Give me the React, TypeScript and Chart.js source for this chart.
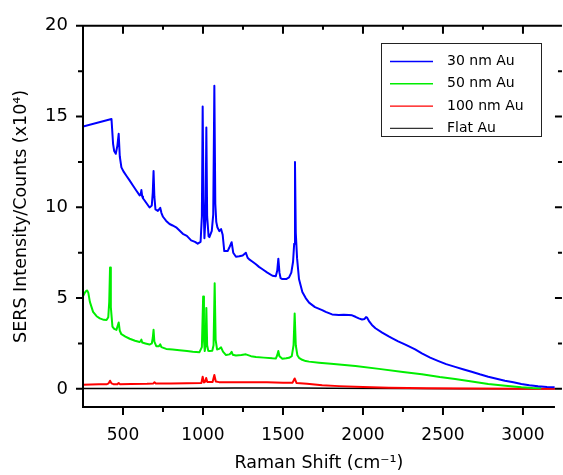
import React, { useEffect, useRef } from "react";
import { Chart, registerables } from "chart.js";
Chart.register(...registerables);

// ---- axis definitions ----
const X_MIN = 250;
const X_MAX = 3200;
const Y_MIN = -1;
const Y_MAX = 20;
const X_TICKS = [500, 1000, 1500, 2000, 2500, 3000];
const X_MINOR = [750, 1250, 1750, 2250, 2750];
const Y_TICKS = [0, 5, 10, 15, 20];
const Y_MINOR = [2.5, 7.5, 12.5, 17.5];

const SERIES_LABELS = ["30 nm Au", "50 nm Au", "100 nm Au", "Flat Au"];

// ---- data: [Raman shift (cm-1), intensity (x10^4)] ----
const AU30: [number, number][] = [
  [250, 14.45], [428, 14.87], [438, 13.5], [445, 13.1], [455, 12.95], [465, 13.4], [473, 14.05],
  [480, 12.8], [490, 12.2], [505, 11.95], [521, 11.74], [540, 11.5], [562, 11.2], [585, 10.9],
  [604, 10.66], [610, 10.7], [615, 10.95], [620, 10.6], [625, 10.5], [645, 10.25], [666, 9.99],
  [680, 10.1], [686, 10.8], [691, 12.0], [696, 10.6], [703, 9.88], [718, 9.8], [733, 9.97],
  [740, 9.7], [750, 9.48], [770, 9.25], [791, 9.08], [810, 9.0], [832, 8.9], [850, 8.75],
  [874, 8.54], [899, 8.43], [926, 8.18], [950, 8.1], [967, 8.0], [985, 8.1], [993, 9.5],
  [998, 15.55], [1003, 10.5], [1009, 8.3], [1016, 9.5], [1021, 14.4], [1026, 9.5], [1035, 8.4],
  [1040, 8.36], [1055, 8.7], [1064, 9.6], [1071, 16.7], [1077, 10.2], [1083, 9.2], [1090, 8.9],
  [1102, 8.69], [1113, 8.8], [1123, 8.49], [1133, 7.59], [1154, 7.59], [1164, 7.77], [1179, 8.08],
  [1189, 7.5], [1206, 7.28], [1227, 7.3], [1248, 7.35], [1268, 7.5], [1279, 7.22], [1289, 7.13],
  [1310, 7.0], [1331, 6.86], [1350, 6.72], [1372, 6.59], [1400, 6.42], [1434, 6.23], [1455, 6.2],
  [1464, 6.5], [1471, 7.17], [1478, 6.4], [1485, 6.1], [1496, 6.05], [1520, 6.05], [1538, 6.14],
  [1552, 6.4], [1563, 7.0], [1570, 8.0], [1575, 12.5], [1580, 8.6], [1588, 7.2], [1600, 6.05],
  [1621, 5.33], [1642, 5.0], [1663, 4.75], [1700, 4.5], [1745, 4.34], [1767, 4.24], [1807, 4.1],
  [1849, 4.07], [1880, 4.08], [1912, 4.07], [1932, 4.05], [1953, 3.97], [1974, 3.88], [1994, 3.82],
  [2010, 3.85], [2019, 3.95], [2026, 3.92], [2040, 3.7], [2056, 3.52], [2078, 3.34], [2120, 3.1],
  [2161, 2.89], [2181, 2.8], [2220, 2.62], [2265, 2.44], [2326, 2.17], [2368, 1.95], [2420, 1.72],
  [2472, 1.53], [2520, 1.36], [2576, 1.21], [2630, 1.07], [2679, 0.94], [2730, 0.8], [2783, 0.67],
  [2835, 0.56], [2887, 0.45], [2940, 0.36], [2990, 0.27], [3040, 0.2], [3094, 0.14], [3150, 0.1],
  [3198, 0.09],
];

const AU50: [number, number][] = [
  [250, 5.1], [262, 5.3], [270, 5.4], [276, 5.42], [283, 5.3], [293, 4.79], [313, 4.24], [335, 4.0],
  [355, 3.88], [380, 3.8], [397, 3.79], [408, 3.95], [414, 4.8], [419, 6.68], [424, 4.5], [434, 3.43],
  [445, 3.3], [459, 3.25], [466, 3.45], [473, 3.66], [480, 3.2], [490, 3.01], [515, 2.88], [542, 2.76],
  [575, 2.65], [604, 2.58], [610, 2.62], [615, 2.71], [620, 2.55], [640, 2.5], [666, 2.44], [680, 2.5],
  [686, 2.8], [691, 3.25], [696, 2.6], [708, 2.35], [725, 2.35], [733, 2.45], [740, 2.3], [770, 2.2],
  [810, 2.17], [853, 2.13], [900, 2.08], [936, 2.04], [978, 2.02], [993, 2.3], [1001, 5.09], [1006, 2.7],
  [1011, 2.08], [1016, 2.4], [1021, 4.46], [1026, 2.4], [1033, 2.1], [1040, 2.08], [1058, 2.1],
  [1066, 2.4], [1073, 5.82], [1079, 2.7], [1088, 2.17], [1100, 2.2], [1113, 2.29], [1125, 2.05],
  [1144, 1.86], [1165, 1.9], [1172, 1.95], [1179, 2.04], [1186, 1.88], [1206, 1.84], [1240, 1.86],
  [1268, 1.9], [1300, 1.8], [1331, 1.75], [1380, 1.72], [1434, 1.68], [1455, 1.67], [1464, 1.85],
  [1471, 2.08], [1478, 1.8], [1496, 1.66], [1520, 1.68], [1538, 1.71], [1555, 1.8], [1566, 2.4],
  [1573, 4.15], [1580, 2.4], [1590, 1.85], [1600, 1.71], [1620, 1.6], [1642, 1.53], [1663, 1.5],
  [1725, 1.44], [1800, 1.38], [1953, 1.26], [2100, 1.1], [2250, 0.93], [2368, 0.81], [2480, 0.65],
  [2576, 0.54], [2680, 0.41], [2783, 0.27], [2890, 0.17], [2990, 0.09], [3060, 0.05], [3114, 0.03],
];

const AU100: [number, number][] = [
  [250, 0.22], [300, 0.24], [350, 0.25], [400, 0.26], [410, 0.3], [419, 0.45], [428, 0.3], [440, 0.26],
  [465, 0.26], [473, 0.32], [480, 0.26], [550, 0.27], [650, 0.28], [690, 0.3], [697, 0.36], [705, 0.3],
  [800, 0.3], [900, 0.31], [990, 0.32], [998, 0.67], [1006, 0.35], [1014, 0.4], [1020, 0.6], [1027, 0.38],
  [1060, 0.38], [1071, 0.76], [1080, 0.4], [1100, 0.37], [1200, 0.36], [1300, 0.36], [1400, 0.36],
  [1500, 0.34], [1560, 0.34], [1573, 0.57], [1585, 0.32], [1650, 0.28], [1745, 0.2], [1850, 0.15],
  [2000, 0.1], [2161, 0.06], [2400, 0.03], [2700, 0.02], [3000, 0.01], [3200, 0.01],
];

const FLAT: [number, number][] = [
  [250, 0.02], [500, 0.02], [800, 0.02], [1000, 0.03], [1200, 0.04], [1400, 0.05], [1600, 0.04],
  [1800, 0.03], [2200, 0.02], [2600, 0.01], [3000, 0.01], [3200, 0.01],
];

const SERIES_DATA = [AU30, AU50, AU100, FLAT];
const SERIES_COLORS = ["#0000ff", "#00ee00", "#ff0000", "#000000"];
const LEGEND_COLORS = ["#0000ff", "#00ee00", "#ff0000", "#333333"];
const SERIES_WIDTHS = [2, 2, 2, 1.5];

const FONT = '"DejaVu Sans", "Liberation Sans", Arial, sans-serif';

const framePlugin = {
  id: "frame",
  afterDatasetsDraw(chart: any) {
    const { ctx, chartArea, scales } = chart;
    const { left, right, top, bottom } = chartArea;
    const x = scales.x;
    const y = scales.y;
    ctx.save();
    ctx.strokeStyle = "#000";
    ctx.lineWidth = 2;
    ctx.lineCap = "butt";
    ctx.beginPath();
    ctx.moveTo(left, top);
    ctx.lineTo(right, top);
    ctx.moveTo(left, top - 1);
    ctx.lineTo(left, bottom + 1);
    ctx.moveTo(left - 1, bottom);
    ctx.lineTo(right, bottom);
    X_TICKS.forEach((v) => {
      const px = x.getPixelForValue(v);
      ctx.moveTo(px, bottom);
      ctx.lineTo(px, bottom + 8);
      ctx.moveTo(px, top);
      ctx.lineTo(px, top + 8);
    });
    X_MINOR.forEach((v) => {
      const px = x.getPixelForValue(v);
      ctx.moveTo(px, bottom);
      ctx.lineTo(px, bottom + 5);
      ctx.moveTo(px, top);
      ctx.lineTo(px, top + 4);
    });
    Y_TICKS.forEach((v) => {
      const py = y.getPixelForValue(v);
      ctx.moveTo(left, py);
      ctx.lineTo(left - 7, py);
      ctx.moveTo(right, py);
      ctx.lineTo(right + 7, py);
    });
    Y_MINOR.forEach((v) => {
      const py = y.getPixelForValue(v);
      ctx.moveTo(left, py);
      ctx.lineTo(left - 5, py);
      ctx.moveTo(right + 3, py);
      ctx.lineTo(right + 7, py);
    });
    ctx.stroke();
    ctx.restore();
  },
};

const boxLegendPlugin = {
  id: "boxLegend",
  afterDraw(chart: any) {
    const { ctx } = chart;
    ctx.save();
    ctx.fillStyle = "#fff";
    ctx.fillRect(381, 43, 160, 93);
    ctx.strokeStyle = "#222";
    ctx.lineWidth = 1;
    ctx.strokeRect(381.5, 43.5, 160, 93);
    ctx.font = `14px ${FONT}`;
    ctx.textBaseline = "middle";
    ctx.textAlign = "left";
    chart.data.datasets.forEach((ds: any, i: number) => {
      const yy = 61.5 + i * 22.3;
      ctx.strokeStyle = LEGEND_COLORS[i];
      ctx.lineWidth = 1.4;
      ctx.beginPath();
      ctx.moveTo(390, yy);
      ctx.lineTo(433, yy);
      ctx.stroke();
      ctx.fillStyle = "#000";
      ctx.fillText(ds.label, 447, yy);
    });
    ctx.restore();
  },
};

export default function App() {
  const ref = useRef<HTMLCanvasElement>(null);
  useEffect(() => {
    document.body.style.margin = "0";
    const canvas = ref.current;
    if (!canvas) return;
    const chart = new Chart(canvas, {
      type: "line",
      data: {
        datasets: SERIES_LABELS.map((label, i) => ({
          label,
          data: SERIES_DATA[i].map(([x, y]) => ({ x, y })),
          borderColor: SERIES_COLORS[i],
          backgroundColor: SERIES_COLORS[i],
          borderWidth: SERIES_WIDTHS[i],
          pointRadius: 0,
          tension: 0,
          fill: false,
          borderJoinStyle: "round" as const,
        })),
      },
      options: {
        animation: false,
        responsive: false,
        devicePixelRatio: 1,
        layout: { padding: { top: 19, right: 6, left: 0, bottom: 0 } },
        plugins: {
          legend: { display: false },
          tooltip: { enabled: false },
        },
        scales: {
          x: {
            type: "linear",
            min: X_MIN,
            max: X_MAX,
            afterBuildTicks: (scale: any) => {
              scale.ticks = X_TICKS.map((v) => ({ value: v }));
            },
            afterFit: (scale: any) => {
              scale.height = 68;
            },
            grid: { display: false, drawTicks: false },
            border: { display: false },
            ticks: {
              autoSkip: false,
              maxRotation: 0,
              padding: 18,
              color: "#000",
              font: { family: FONT, size: 17 },
              callback: (v: any) => String(v),
            },
            title: {
              display: true,
              text: "Raman Shift (cm⁻¹)",
              color: "#000",
              font: { family: FONT, size: 17.5 },
              padding: { top: 0, bottom: 1 },
            },
          },
          y: {
            type: "linear",
            min: Y_MIN,
            max: Y_MAX,
            afterBuildTicks: (scale: any) => {
              scale.ticks = Y_TICKS.map((v) => ({ value: v }));
            },
            afterFit: (scale: any) => {
              scale.width = 83;
            },
            grid: { display: false, drawTicks: false },
            border: { display: false },
            ticks: {
              padding: 15,
              color: "#000",
              font: { family: FONT, size: 18 },
              callback: (v: any) => String(v),
            },
            title: {
              display: true,
              text: "SERS Intensity/Counts (x10⁴)",
              color: "#000",
              font: { family: FONT, size: 17.5 },
              padding: { top: 11, bottom: 0 },
            },
          },
        },
      },
      plugins: [framePlugin, boxLegendPlugin],
    });
    return () => chart.destroy();
  }, []);
  return (
    <div style={{ width: 563, height: 475 }}>
      <canvas ref={ref} width={563} height={475} style={{ display: "block" }} />
    </div>
  );
}
